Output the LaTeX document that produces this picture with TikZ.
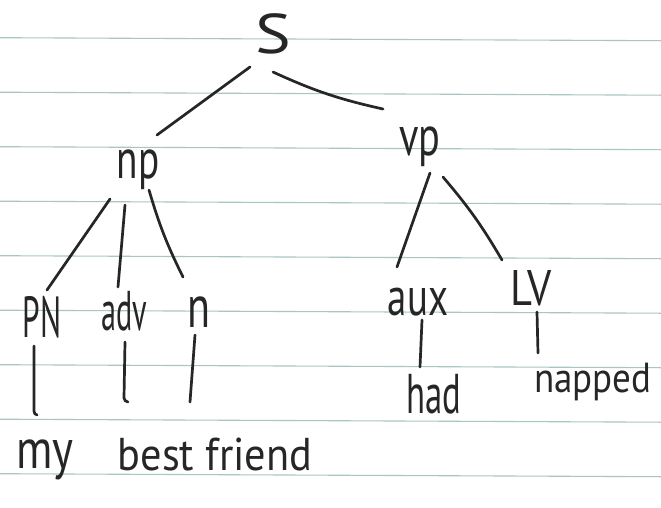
\documentclass[tikz,border=0pt]{standalone}
\usepackage{fontspec}
\setmainfont{PT Sans}
\usepackage{graphicx}
\definecolor{ink}{HTML}{262626}
\definecolor{paperline}{HTML}{A9C6C5}
\newcommand\hwtext[2]{\scalebox{#1}[1]{#2}}
\newcommand\fsz[1]{\fontsize{#1}{#1}\selectfont}
\begin{document}
\begin{tikzpicture}[x=1pt,y=-1pt,
  lab/.style={anchor=base, inner sep=0pt, text=ink, font=\fsz{56}},
  branch/.style={draw=ink, line width=2.7pt, line cap=round},
  rule/.style={draw=paperline, line width=1.1pt}]
\fill[white] (0,0) rectangle (661,507);
\useasboundingbox (0,0) rectangle (661,507);
% ruled paper
\foreach \k in {0,...,8}
  \draw[rule] (0,{37.7+54.5*\k}) -- (661,{40.7+54.5*\k});
% labels
\node[lab, font=\fsz{56}] (S) at (273,53) {\hwtext{1.2}{S}};
\node[lab] (np) at (138,178) {\hwtext{0.7}{np}};
\node[lab] (vp) at (420,155) {\hwtext{0.72}{vp}};
\node[lab, font=\fsz{58}] (PN) at (42,337) {\hwtext{0.54}{PN}};
\node[lab] (adv) at (124,330) {\hwtext{0.54}{adv}};
\node[lab, font=\fsz{60}] (n) at (199,327) {\hwtext{0.7}{n}};
\node[lab, font=\fsz{54}] (aux) at (418,315) {\hwtext{0.72}{aux}};
\node[lab, font=\fsz{50}] (LV) at (531,305) {\hwtext{0.85}{LV}};
\node[lab] (had) at (434,413) {\hwtext{0.62}{had}};
\node[lab, font=\fsz{42}] (napped) at (593,392) {\hwtext{0.88}{napped}};
\node[lab] (my) at (45,468) {\hwtext{0.8}{my}};
\node[lab, font=\fsz{46}] (bf) at (215,470) {\hwtext{0.92}{best friend}};
% branches
\draw[branch] ([shift={(-23,14)}]S.base) -- ([shift={(19,-43)}]np.base);
\draw[branch] ([shift={(0,19)}]S.base) to[bend right=6] ([shift={(-37,-46)}]vp.base);
\draw[branch] ([shift={(-28,21)}]np.base) -- ([shift={(5,-47)}]PN.base);
\draw[branch] ([shift={(-13,27)}]np.base) -- ([shift={(-6,-43)}]adv.base);
\draw[branch] ([shift={(11,12)}]np.base) to[bend right=5] ([shift={(-16,-50)}]n.base);
\draw[branch] ([shift={(10,18)}]vp.base) -- ([shift={(-21,-48)}]aux.base);
\draw[branch] ([shift={(23,22)}]vp.base) to[bend left=5] ([shift={(-29,-45)}]LV.base);
\draw[branch] ([shift={(-8,9)}]PN.base) -- ([shift={(-11,-57)}]my.base) to[bend right=40] ([shift={(-8,-53)}]my.base);
\draw[branch] ([shift={(1,12)}]adv.base) -- ([shift={(-91,-72)}]bf.base) to[bend right=40] ([shift={(-87,-68)}]bf.base);
\draw[branch] ([shift={(-4,8)}]n.base) -- ([shift={(-25,-68)}]bf.base);
\draw[branch] ([shift={(4,5)}]aux.base) -- ([shift={(-14,-46)}]had.base);
\draw[branch] ([shift={(6,7)}]LV.base) -- ([shift={(-55,-39)}]napped.base);
\end{tikzpicture}
\end{document}
